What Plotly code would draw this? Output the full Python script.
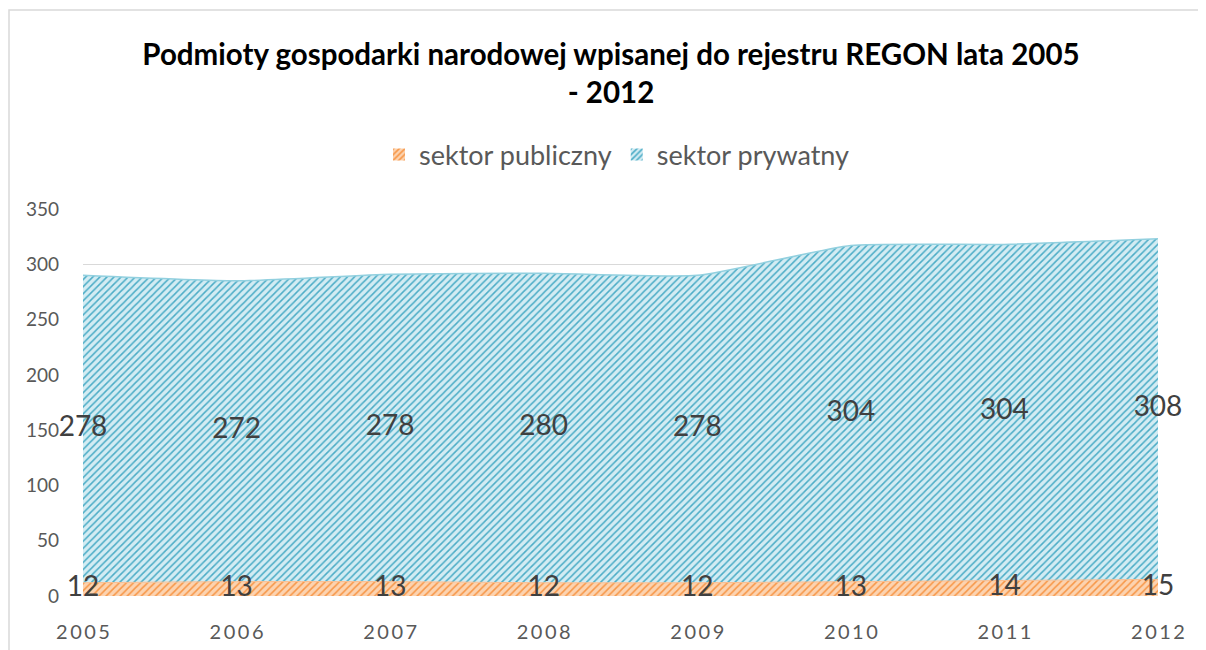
import plotly.graph_objects as go

years = [2005, 2006, 2007, 2008, 2009, 2010, 2011, 2012]
publiczny = [12, 13, 13, 12, 12, 13, 14, 15]
prywatny = [278, 272, 278, 280, 278, 304, 304, 308]
y_ticks = [0, 50, 100, 150, 200, 250, 300, 350]
x_ticklabels = ["\u2009".join(str(y)) for y in years]

title = "Podmioty gospodarki narodowej wpisanej do rejestru REGON lata 2005<br>- 2012"

FONT = "Lato"
ORANGE_FG, ORANGE_BG = "#F79646", "#FCD3B0"
BLUE_FG, BLUE_BG = "#4BACC6", "#D3ECF3"

# page offset (body margin 8px) compensation: plot area wanted at x 83..1158, y 209..596 of the page
W, H = 1198, 642
L, T = 75, 201
PW, PH = 1075, 387

fig = go.Figure()

fig.add_trace(go.Scatter(
    x=years, y=publiczny, name="sektor publiczny", stackgroup="one", showlegend=False,
    mode="lines", line=dict(color="#F9BE91", width=1, shape="spline", smoothing=0.5),
    fillpattern=dict(shape="/", fgcolor=ORANGE_FG, bgcolor=ORANGE_BG, size=5, solidity=0.3, fillmode="replace"),
    hoverinfo="skip",
))
fig.add_trace(go.Scatter(
    x=years, y=prywatny, name="sektor prywatny", stackgroup="one", showlegend=False,
    mode="lines", line=dict(color="#92D0DF", width=1.5, shape="spline", smoothing=0.5),
    fillpattern=dict(shape="/", fgcolor=BLUE_FG, bgcolor=BLUE_BG, size=5, solidity=0.3, fillmode="replace"),
    hoverinfo="skip",
))

# legend entries (square swatches)
fig.add_trace(go.Bar(x=[None], y=[None], name="sektor publiczny",
                     marker=dict(color=ORANGE_BG, line=dict(width=0),
                                 pattern=dict(shape="/", fgcolor=ORANGE_FG, bgcolor=ORANGE_BG, size=5, solidity=0.4, fillmode="replace"))))
fig.add_trace(go.Bar(x=[None], y=[None], name="sektor prywatny",
                     marker=dict(color=BLUE_BG, line=dict(width=0),
                                 pattern=dict(shape="/", fgcolor=BLUE_FG, bgcolor=BLUE_BG, size=5, solidity=0.4, fillmode="replace"))))

# data labels at the middle of each band
pub_mid = [p / 2 for p in publiczny]
pry_mid = [p + q / 2 for p, q in zip(publiczny, prywatny)]
fig.add_trace(go.Scatter(
    x=years, y=pub_mid, mode="text", text=[str(v) for v in publiczny],
    textfont=dict(family=FONT, size=28, color="#404040"), showlegend=False,
    cliponaxis=False, hoverinfo="skip",
))
fig.add_trace(go.Scatter(
    x=years, y=pry_mid, mode="text", text=[str(v) for v in prywatny],
    textfont=dict(family=FONT, size=28, color="#404040"), showlegend=False,
    cliponaxis=False, hoverinfo="skip",
))

fig.update_layout(
    width=W, height=H,
    margin=dict(l=L, r=W - L - PW, t=T, b=H - T - PH, autoexpand=False),
    paper_bgcolor="white", plot_bgcolor="white",
    font=dict(family=FONT, color="#595959"),
    title=dict(text=title, x=(611 - 8 - L) / PW, xref="paper", xanchor="center",
               y=1 - (64.5 - 8) / H, yanchor="middle",
               font=dict(family=FONT, size=29.5, color="#000000", weight="bold")),
    legend=dict(orientation="h", x=(617 - 8 - L) / PW, xanchor="center",
                y=(T + PH - (155 - 8)) / PH, yanchor="middle",
                font=dict(family=FONT, size=27, color="#595959"), traceorder="normal"),
    showlegend=True,
)
fig.update_xaxes(range=[2005, 2012], tickvals=years, ticktext=x_ticklabels,
                 showgrid=False, zeroline=False, showline=False, ticks="", automargin=False,
                 tickfont=dict(family=FONT, size=20, color="#595959"), ticklabelstandoff=22)
fig.update_yaxes(range=[0, 350], tickvals=y_ticks, showgrid=True, gridcolor="#D9D9D9",
                 gridwidth=1, zeroline=False, showline=False, ticks="", automargin=False,
                 tickfont=dict(family=FONT, size=19, color="#595959"), ticklabelstandoff=23)

# chart border
fig.add_shape(type="rect", xref="paper", yref="paper", x0=(1 - L) / PW, x1=1.2,
              y0=-0.4, y1=(T + PH - 2) / PH, line=dict(color="#D9D9D9", width=1.5), layer="below")

fig.write_html("out.html")
